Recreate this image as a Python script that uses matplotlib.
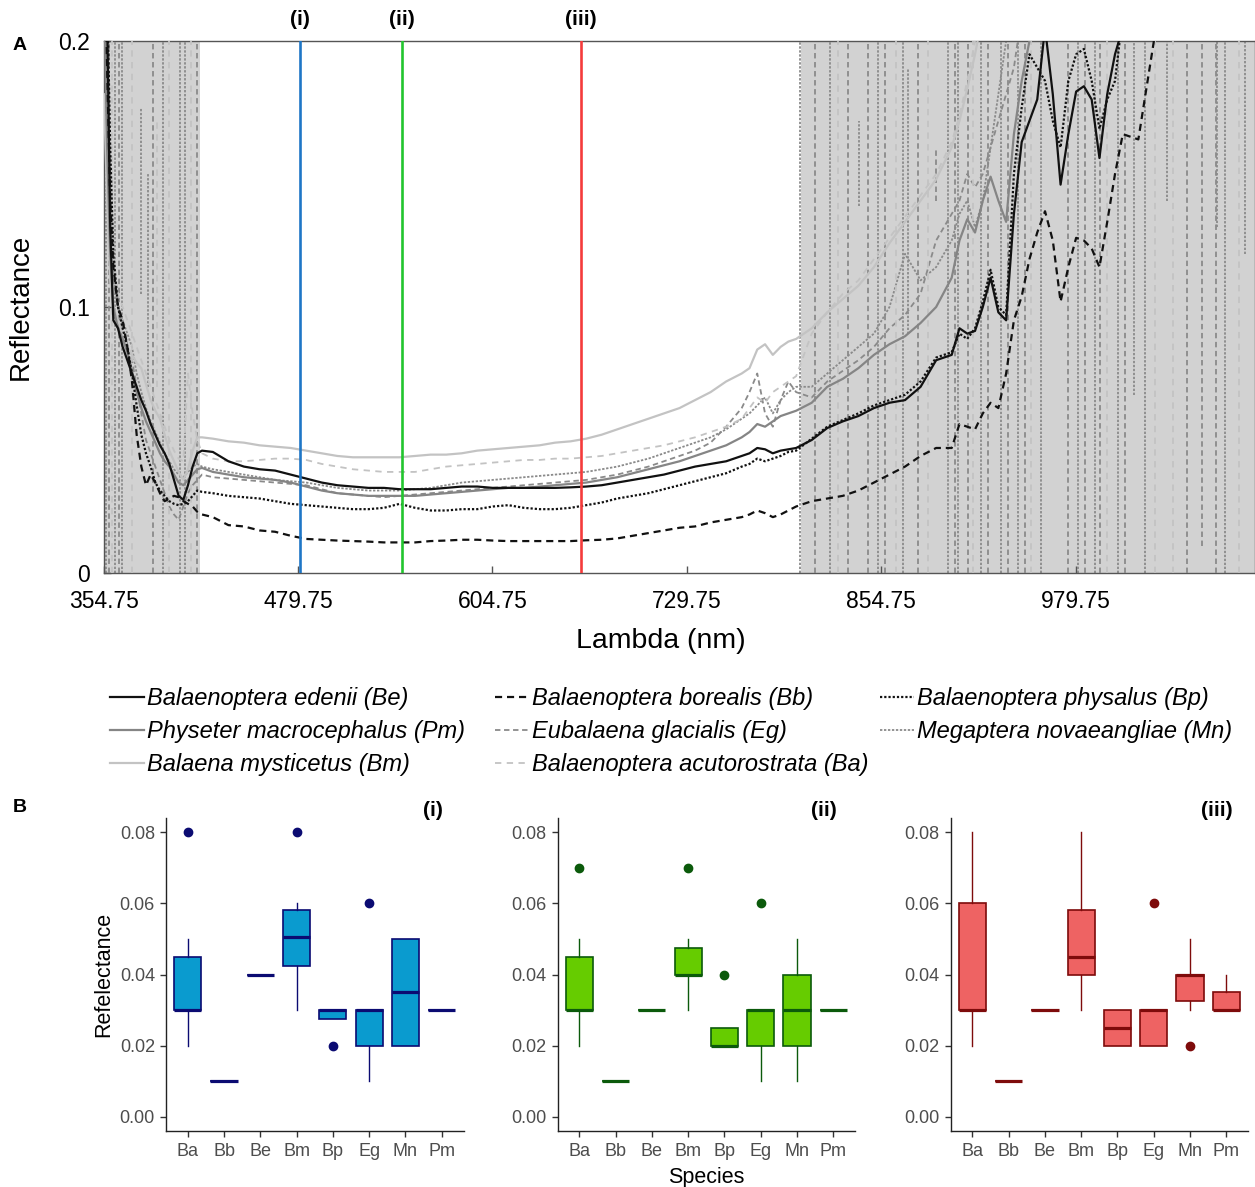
import matplotlib
matplotlib.use("Agg")
import matplotlib.pyplot as plt
import matplotlib.transforms as mtransforms
from matplotlib.lines import Line2D

plt.rcParams['font.family'] = ['Liberation Sans', 'DejaVu Sans']

# ---------------- Panel A data ----------------
wl_left = [355, 357, 359, 361, 364, 367, 370, 373, 376, 379, 382, 385, 388, 391, 394, 397, 400, 403, 406, 409, 412, 415]
wl_mid = [418, 425, 435, 445, 455, 465, 475, 485, 495, 505,
          515, 525, 535, 545, 555, 565, 575, 585, 595, 605,
          615, 625, 635, 645, 655, 665, 675, 685, 695, 705,
          715, 725, 735, 745, 755, 765,
          770, 775, 780, 785, 790, 795, 800]
wl_right = [810, 820, 830, 840, 850, 860, 870, 880, 890, 900,
            905, 910, 915, 920, 925, 930, 935, 940, 945, 950, 955, 960, 965, 970, 975, 980, 985, 990, 995, 1000, 1005,
            1010, 1020, 1030, 1040, 1050, 1060, 1070, 1080,
            1095]
wavelength = wl_left + wl_mid + wl_right

be = ([0.25, 0.21, 0.13, 0.095, 0.092, 0.085, 0.08, 0.075, 0.07, 0.065, 0.061, 0.056, 0.052, 0.048, 0.045, 0.041, 0.035, 0.029, 0.0275, 0.033, 0.040, 0.045]
      + [0.046, 0.0455, 0.042, 0.040, 0.039, 0.0385, 0.037, 0.0355, 0.034, 0.033,
         0.0325, 0.032, 0.032, 0.0315, 0.0315, 0.0315, 0.032, 0.0325, 0.0325, 0.032,
         0.032, 0.032, 0.032, 0.032, 0.0322, 0.0325, 0.033, 0.034, 0.035, 0.036,
         0.037, 0.0385, 0.040, 0.041, 0.042, 0.044,
         0.045, 0.047, 0.0465, 0.045, 0.046, 0.0465, 0.047]
      + [0.050, 0.0545, 0.057, 0.059, 0.062, 0.064, 0.065, 0.070, 0.080, 0.082,
         0.092, 0.090, 0.091, 0.100, 0.111, 0.098, 0.095, 0.135, 0.162, 0.170, 0.178, 0.205, 0.180, 0.146, 0.165, 0.181, 0.183, 0.178, 0.156, 0.180, 0.195,
         0.205, 0.22, 0.23, 0.23, 0.23, 0.23, 0.23, 0.23,
         0.23])
bp = ([0.25, 0.22, 0.16, 0.12, 0.10, 0.092, 0.085, 0.075, 0.063, 0.052, 0.045, 0.040, 0.034, 0.031, 0.029, 0.027, 0.026, 0.0255, 0.026, 0.027, 0.029, 0.031]
      + [0.0305, 0.030, 0.029, 0.0285, 0.028, 0.027, 0.026, 0.0255, 0.025, 0.0245,
         0.024, 0.024, 0.0245, 0.026, 0.0245, 0.0235, 0.0235, 0.024, 0.024, 0.025,
         0.0255, 0.0245, 0.024, 0.024, 0.0245, 0.0255, 0.0265, 0.028, 0.029, 0.030,
         0.0315, 0.033, 0.0345, 0.036, 0.0375, 0.040,
         0.041, 0.043, 0.042, 0.043, 0.044, 0.0455, 0.046]
      + [0.0505, 0.055, 0.0575, 0.060, 0.063, 0.065, 0.067, 0.072, 0.081, 0.083,
         0.090, 0.088, 0.092, 0.102, 0.114, 0.100, 0.097, 0.150, 0.175, 0.195, 0.190, 0.185, 0.170, 0.160, 0.185, 0.195, 0.197, 0.185, 0.167, 0.178, 0.185,
         0.21, 0.23, 0.23, 0.23, 0.23, 0.23, 0.23, 0.23,
         0.23])
bb = ([0.25, 0.19, 0.14, 0.115, 0.100, 0.095, 0.085, 0.072, 0.052, 0.040, 0.033, 0.037, 0.034, 0.030, 0.027, 0.028, 0.029, 0.0285, 0.027, 0.026, 0.025, 0.023]
      + [0.022, 0.021, 0.018, 0.0175, 0.016, 0.0155, 0.014, 0.0128, 0.0125, 0.0122,
         0.012, 0.0118, 0.0115, 0.0115, 0.0115, 0.012, 0.0122, 0.0125, 0.0125, 0.0122,
         0.012, 0.012, 0.012, 0.012, 0.012, 0.0123, 0.0125, 0.013, 0.014, 0.015,
         0.016, 0.017, 0.0175, 0.019, 0.020, 0.021,
         0.022, 0.0235, 0.0225, 0.021, 0.022, 0.0235, 0.025]
      + [0.027, 0.028, 0.029, 0.031, 0.034, 0.037, 0.040, 0.044, 0.047, 0.047,
         0.056, 0.055, 0.054, 0.060, 0.064, 0.062, 0.075, 0.095, 0.104, 0.118, 0.128, 0.136, 0.125, 0.102, 0.115, 0.126, 0.125, 0.122, 0.115, 0.132, 0.150,
         0.165, 0.163, 0.20, 0.23, 0.23, 0.23, 0.23, 0.23,
         0.23])
pm = ([0.22, 0.16, 0.12, 0.10, 0.092, 0.088, 0.083, 0.076, 0.068, 0.062, 0.057, 0.053, 0.049, 0.045, 0.042, 0.040, 0.037, 0.034, 0.033, 0.035, 0.037, 0.039]
      + [0.0395, 0.038, 0.037, 0.036, 0.0355, 0.035, 0.034, 0.0325, 0.031, 0.030,
         0.0295, 0.029, 0.029, 0.029, 0.029, 0.0295, 0.030, 0.0305, 0.031, 0.0315,
         0.032, 0.032, 0.0325, 0.033, 0.0335, 0.034, 0.035, 0.036, 0.0375, 0.039,
         0.0405, 0.042, 0.044, 0.046, 0.048, 0.051,
         0.053, 0.056, 0.055, 0.057, 0.059, 0.060, 0.061]
      + [0.064, 0.070, 0.073, 0.077, 0.082, 0.086, 0.089, 0.094, 0.100, 0.111,
         0.125, 0.133, 0.128, 0.140, 0.149, 0.140, 0.132, 0.165, 0.185, 0.200, 0.210, 0.23, 0.23, 0.23, 0.23, 0.23, 0.23, 0.23, 0.23, 0.23, 0.23,
         0.23, 0.23, 0.23, 0.23, 0.23, 0.23, 0.23, 0.23,
         0.23])
bm = ([0.18, 0.14, 0.11, 0.10, 0.095, 0.09, 0.085, 0.082, 0.079, 0.077, 0.071, 0.065, 0.061, 0.058, 0.052, 0.046, 0.042, 0.038, 0.035, 0.039, 0.046, 0.051]
      + [0.051, 0.0505, 0.0495, 0.049, 0.048, 0.0475, 0.047, 0.046, 0.045, 0.044,
         0.0435, 0.0435, 0.0435, 0.0435, 0.044, 0.0445, 0.0445, 0.045, 0.046, 0.0465,
         0.047, 0.0475, 0.048, 0.049, 0.0495, 0.0505, 0.052, 0.054, 0.056, 0.058,
         0.060, 0.062, 0.065, 0.068, 0.072, 0.075,
         0.077, 0.084, 0.086, 0.082, 0.085, 0.087, 0.088]
      + [0.092, 0.098, 0.103, 0.108, 0.115, 0.124, 0.132, 0.140, 0.148, 0.160,
         0.170, 0.182, 0.195, 0.21, 0.23, 0.23, 0.23, 0.23, 0.23, 0.23, 0.23, 0.23, 0.23, 0.23, 0.23, 0.23, 0.23, 0.23, 0.23, 0.23, 0.23,
         0.23, 0.23, 0.23, 0.23, 0.23, 0.23, 0.23, 0.23,
         0.23])
ba = ([0.25, 0.20, 0.15, 0.12, 0.105, 0.10, 0.095, 0.09, 0.085, 0.08, 0.075, 0.07, 0.065, 0.06, 0.055, 0.05, 0.046, 0.043, 0.042, 0.075, 0.06, 0.05]
      + [0.045, 0.043, 0.042, 0.042, 0.0425, 0.043, 0.043, 0.0425, 0.041, 0.040,
         0.039, 0.0385, 0.038, 0.038, 0.038, 0.039, 0.040, 0.0405, 0.041, 0.0415,
         0.042, 0.0425, 0.0425, 0.043, 0.043, 0.0435, 0.044, 0.045, 0.046, 0.047,
         0.048, 0.0495, 0.051, 0.053, 0.055, 0.058,
         0.062, 0.066, 0.064, 0.068, 0.070, 0.072, 0.074]
      + [0.090, 0.098, 0.105, 0.110, 0.118, 0.126, 0.134, 0.142, 0.150, 0.162,
         0.172, 0.185, 0.200, 0.23, 0.23, 0.23, 0.23, 0.23, 0.23, 0.23, 0.23, 0.23, 0.23, 0.23, 0.23, 0.23, 0.23, 0.23, 0.23, 0.23, 0.23,
         0.23, 0.23, 0.23, 0.23, 0.23, 0.23, 0.23, 0.23,
         0.23])
eg = ([0.25, 0.18, 0.14, 0.11, 0.10, 0.092, 0.086, 0.08, 0.07, 0.06, 0.05, 0.045, 0.04, 0.035, 0.030, 0.025, 0.022, 0.020, 0.025, 0.030, 0.033, 0.035]
      + [0.037, 0.036, 0.0355, 0.035, 0.0345, 0.034, 0.0335, 0.033, 0.0315, 0.030,
         0.0295, 0.029, 0.0285, 0.029, 0.0295, 0.030, 0.0305, 0.031, 0.0315, 0.032,
         0.0325, 0.033, 0.0335, 0.034, 0.0345, 0.035, 0.036, 0.037, 0.0385, 0.040,
         0.042, 0.044, 0.046, 0.049, 0.055, 0.062,
         0.068, 0.075, 0.060, 0.055, 0.065, 0.072, 0.068]
      + [0.066, 0.072, 0.076, 0.080, 0.085, 0.092, 0.097, 0.105, 0.125, 0.135,
         0.140, 0.150, 0.145, 0.150, 0.160, 0.170, 0.180, 0.190, 0.210, 0.23, 0.23, 0.23, 0.23, 0.23, 0.23, 0.23, 0.23, 0.23, 0.23, 0.23, 0.23,
         0.23, 0.23, 0.23, 0.23, 0.23, 0.23, 0.23, 0.23,
         0.23])
mn = ([0.25, 0.20, 0.15, 0.12, 0.10, 0.095, 0.09, 0.085, 0.075, 0.068, 0.062, 0.057, 0.053, 0.049, 0.045, 0.042, 0.039, 0.037, 0.036, 0.038, 0.040, 0.041]
      + [0.040, 0.039, 0.038, 0.037, 0.036, 0.035, 0.0345, 0.034, 0.033, 0.032,
         0.0315, 0.031, 0.031, 0.031, 0.0315, 0.032, 0.033, 0.034, 0.0345, 0.035,
         0.0355, 0.036, 0.0365, 0.037, 0.0375, 0.038, 0.039, 0.040, 0.0415, 0.043,
         0.045, 0.047, 0.049, 0.051, 0.054, 0.058,
         0.060, 0.063, 0.066, 0.060, 0.065, 0.068, 0.070]
      + [0.070, 0.075, 0.080, 0.085, 0.090, 0.100, 0.120, 0.110, 0.115, 0.125,
         0.135, 0.140, 0.130, 0.140, 0.160, 0.180, 0.200, 0.23, 0.23, 0.23, 0.23, 0.23, 0.23, 0.23, 0.23, 0.23, 0.23, 0.23, 0.23, 0.23, 0.23,
         0.23, 0.23, 0.23, 0.23, 0.23, 0.23, 0.23, 0.23,
         0.23])

# noisy jumps in the shaded bands: (wavelength, lowest value, highest value)
mn_spikes = [(356.0, 0, 0.2), (362.4, 0, 0.2), (366.9, 0, 0.2), (378.5, 0.105, 0.175), (383.0, 0.07, 0.15),
             (393.2, 0, 0.2), (404.1, 0, 0.2), (407.3, 0, 0.2), (802.6, 0, 0.2), (821.8, 0, 0.2),
             (840.4, 0.138, 0.17), (852.8, 0, 0.2), (868.8, 0, 0.2), (872.0, 0.09, 0.19), (897.7, 0, 0.2),
             (904.0, 0, 0.2), (918.8, 0, 0.2), (931.6, 0, 0.2), (942.5, 0, 0.2), (957.3, 0, 0.2),
             (981.0, 0, 0.2), (991.9, 0, 0.2), (1006.6, 0, 0.2), (1017.5, 0.067, 0.2), (1024.0, 0, 0.2),
             (1038.7, 0.14, 0.2), (1070.8, 0.13, 0.2), (1075.9, 0, 0.2), (1088.7, 0.12, 0.2)]
eg_spikes = [(358.0, 0, 0.2), (364.4, 0, 0.2), (386.8, 0, 0.2), (415.0, 0, 0.2), (812.2, 0, 0.2),
             (833.6, 0, 0.2), (846.4, 0, 0.2), (857.1, 0, 0.2), (878.4, 0, 0.2), (890.0, 0.14, 0.16),
             (902.0, 0, 0.2), (910.5, 0, 0.2), (923.3, 0, 0.2), (936.1, 0, 0.2), (947.0, 0, 0.2),
             (974.6, 0, 0.2), (985.5, 0, 0.2), (995.1, 0, 0.2), (1011.2, 0, 0.2), (1051.5, 0, 0.2),
             (1061.1, 0.01, 0.2), (1070.0, 0, 0.2)]
ba_spikes = [(360.0, 0, 0.2), (373.0, 0, 0.2), (389.0, 0.07, 0.17), (397.0, 0, 0.2), (411.0, 0, 0.2),
             (827.0, 0, 0.2), (864.0, 0, 0.2), (885.0, 0, 0.2), (914.0, 0, 0.2), (951.0, 0, 0.2),
             (1000.0, 0, 0.2), (1031.0, 0, 0.2), (1042.0, 0, 0.2), (1085.0, 0, 0.2)]

band_wl = [(354.75, 416.7), (803.0, 1095.0)]
marker_wl = [481.0, 546.6, 661.7]
marker_labels = ["(i)", "(ii)", "(iii)"]
marker_colors = ["#1E76C6", "#22C52E", "#F53B3B"]
xtick_vals = [354.75, 479.75, 604.75, 729.75, 854.75, 979.75]

# ---------------- Panel B data ----------------
species = ["Ba", "Bb", "Be", "Bm", "Bp", "Eg", "Mn", "Pm"]
i_q1 = [0.03, 0.01, 0.04, 0.0425, 0.0275, 0.02, 0.02, 0.03]
i_med = [0.03, 0.01, 0.04, 0.0505, 0.03, 0.03, 0.035, 0.03]
i_q3 = [0.045, 0.01, 0.04, 0.058, 0.03, 0.03, 0.05, 0.03]
i_lo = [0.02, 0.01, 0.04, 0.03, 0.0275, 0.01, 0.02, 0.03]
i_hi = [0.05, 0.01, 0.04, 0.06, 0.03, 0.03, 0.05, 0.03]
i_out = [[0.08], [], [], [0.08], [0.02], [0.06], [], []]

ii_q1 = [0.03, 0.01, 0.03, 0.04, 0.02, 0.02, 0.02, 0.03]
ii_med = [0.03, 0.01, 0.03, 0.04, 0.02, 0.03, 0.03, 0.03]
ii_q3 = [0.045, 0.01, 0.03, 0.0475, 0.025, 0.03, 0.04, 0.03]
ii_lo = [0.02, 0.01, 0.03, 0.03, 0.02, 0.01, 0.01, 0.03]
ii_hi = [0.05, 0.01, 0.03, 0.05, 0.025, 0.03, 0.05, 0.03]
ii_out = [[0.07], [], [], [0.07], [0.04], [0.06], [], []]

iii_q1 = [0.03, 0.01, 0.03, 0.04, 0.02, 0.02, 0.0325, 0.03]
iii_med = [0.03, 0.01, 0.03, 0.045, 0.025, 0.03, 0.04, 0.03]
iii_q3 = [0.06, 0.01, 0.03, 0.058, 0.03, 0.03, 0.04, 0.035]
iii_lo = [0.02, 0.01, 0.03, 0.03, 0.02, 0.02, 0.03, 0.03]
iii_hi = [0.08, 0.01, 0.03, 0.08, 0.03, 0.03, 0.05, 0.04]
iii_out = [[], [], [], [], [], [0.06], [0.02], []]

box_fill = ["#0A9BCF", "#66CC00", "#EE6363"]
box_edge = ["#0B0B72", "#0B5A0B", "#7E0B0B"]

# ---------------- Figure ----------------
W, H = 1255, 1187
fig = plt.figure(figsize=(W / 100, H / 100), dpi=100)


def fx(px):
    return px / W


def fy(py):
    return 1 - py / H


axA = fig.add_axes([fx(103.6), fy(573), fx(1255 - 103.6), (573 - 41) / H])
axA.set_xlim(354.75, 1095)
axA.set_ylim(0, 0.2)
for a, b in band_wl:
    axA.axvspan(a, b, color="#D2D2D2", lw=0, zorder=0)

styles = {
    "Be": dict(color="#111111", ls="-", lw=1.6),
    "Pm": dict(color="#858585", ls="-", lw=1.6),
    "Bm": dict(color="#C3C3C3", ls="-", lw=1.6),
    "Bb": dict(color="#111111", ls=(0, (3.2, 2.2)), lw=1.6),
    "Eg": dict(color="#8A8A8A", ls=(0, (3.0, 2.0)), lw=1.3),
    "Ba": dict(color="#C3C3C3", ls=(0, (3.5, 3.0)), lw=1.3),
    "Bp": dict(color="#111111", ls=(0, (1.0, 0.9)), lw=1.6),
    "Mn": dict(color="#8A8A8A", ls=(0, (1.3, 0.9)), lw=1.3),
}
names = {
    "Be": "Balaenoptera edenii (Be)",
    "Pm": "Physeter macrocephalus (Pm)",
    "Bm": "Balaena mysticetus (Bm)",
    "Bb": "Balaenoptera borealis (Bb)",
    "Eg": "Eubalaena glacialis (Eg)",
    "Ba": "Balaenoptera acutorostrata (Ba)",
    "Bp": "Balaenoptera physalus (Bp)",
    "Mn": "Megaptera novaeangliae (Mn)",
}
series = {"Mn": mn, "Eg": eg, "Ba": ba, "Bm": bm, "Pm": pm, "Bb": bb, "Bp": bp, "Be": be}
spikes = {"Mn": mn_spikes, "Eg": eg_spikes, "Ba": ba_spikes}

for z, (key, yy) in enumerate(series.items()):
    st = styles[key]
    axA.plot(wavelength, yy, color=st["color"], linestyle=st["ls"], linewidth=st["lw"], zorder=2 + z)
    if key in spikes:
        sw = [s[0] for s in spikes[key]]
        slo = [s[1] for s in spikes[key]]
        shi = [s[2] for s in spikes[key]]
        axA.vlines(sw, slo, shi, colors=st["color"], linestyles=[st["ls"]], linewidth=st["lw"], zorder=2 + z)

trans = mtransforms.blended_transform_factory(axA.transData, axA.transAxes)
for w, lab, c in zip(marker_wl, marker_labels, marker_colors):
    axA.axvline(w, color=c, lw=1.9, zorder=20)
    axA.text(w, 1.04, lab, transform=trans, ha="center", va="center",
             fontsize=15, fontweight="bold", clip_on=False)

axA.set_xticks(xtick_vals)
axA.set_xticklabels([f"{v:.2f}" for v in xtick_vals])
axA.set_yticks([0, 0.1, 0.2])
axA.set_yticklabels(["0", "0.1", "0.2"])
axA.tick_params(direction="in", length=5, width=1, color="#555555", labelsize=16.5)
axA.tick_params(axis="x", pad=12)
axA.tick_params(axis="y", pad=10)
for sp in axA.spines.values():
    sp.set_color("#555555")
    sp.set_linewidth(1.0)
axA.set_xlabel("Lambda (nm)", fontsize=20.5)
axA.xaxis.set_label_coords((661 - 103.6) / 1151.4, -0.103)
axA.set_ylabel("Reflectance", fontsize=20)
axA.yaxis.set_label_coords((34 - 103.6) / 1151.4, 0.5)

fig.text(fx(20), fy(45), "A", fontsize=14, fontweight="bold", ha="center", va="center")
fig.text(fx(20), fy(808), "B", fontsize=14, fontweight="bold", ha="center", va="center")

# legend: three columns of equal width
legend_cols = [["Be", "Pm", "Bm"], ["Bb", "Eg", "Ba"], ["Bp", "Mn"]]
col_x = [110, 495, 880]
for keys, x0 in zip(legend_cols, col_x):
    hs = []
    for k in keys:
        st = styles[k]
        hs.append(Line2D([], [], color=st["color"], linestyle=st["ls"], linewidth=st["lw"]))
    fig.legend(hs, [names[k] for k in keys], loc="upper left", bbox_to_anchor=(fx(x0), fy(687)),
               frameon=False, borderpad=0, borderaxespad=0, handlelength=1.45, handletextpad=0.12,
               labelspacing=0.43, prop=dict(size=17, style="italic"))

# ---------------- Panel B ----------------
panel_left = [166.0, 557.5, 950.6]
box_sets = [
    (i_q1, i_med, i_q3, i_lo, i_hi, i_out),
    (ii_q1, ii_med, ii_q3, ii_lo, ii_hi, ii_out),
    (iii_q1, iii_med, iii_q3, iii_lo, iii_hi, iii_out),
]
for k, (left, data) in enumerate(zip(panel_left, box_sets)):
    ax = fig.add_axes([fx(left), fy(1131), 297.5 / W, (1131 - 818) / H])
    q1, med, q3, lo, hi, out = data
    stats = []
    for j, sp_name in enumerate(species):
        stats.append(dict(label=sp_name, q1=q1[j], med=med[j], q3=q3[j],
                          whislo=lo[j], whishi=hi[j], fliers=out[j]))
    ax.bxp(stats, positions=range(1, 9), widths=0.75, patch_artist=True, showcaps=False,
           boxprops=dict(facecolor=box_fill[k], edgecolor=box_edge[k], linewidth=1.2),
           medianprops=dict(color=box_edge[k], linewidth=2.3),
           whiskerprops=dict(color=box_edge[k], linewidth=1.0),
           flierprops=dict(marker="o", markerfacecolor=box_edge[k], markeredgecolor=box_edge[k],
                           markersize=6))
    ax.set_xlim(0.4, 8.6)
    ax.set_ylim(-0.004, 0.084)
    ax.set_yticks([0, 0.02, 0.04, 0.06, 0.08])
    ax.set_yticklabels(["0.00", "0.02", "0.04", "0.06", "0.08"])
    ax.set_xticks(range(1, 9))
    ax.set_xticklabels(species)
    ax.tick_params(direction="out", length=4, width=1, color="#333333", labelsize=13,
                   labelcolor="#4D4D4D", pad=4)
    ax.tick_params(axis="x", pad=5)
    for s in ["top", "right"]:
        ax.spines[s].set_visible(False)
    for s in ["left", "bottom"]:
        ax.spines[s].set_color("#222222")
        ax.spines[s].set_linewidth(1.0)
    ax.text(7.75, 0.086, marker_labels[k], ha="center", va="center", fontsize=15,
            fontweight="bold", clip_on=False)
    if k == 0:
        ax.set_ylabel("Refelectance", fontsize=15.5, labelpad=4)
    if k == 1:
        ax.set_xlabel("Species", fontsize=15.5, labelpad=5)

fig.savefig("out.png", dpi=100)
